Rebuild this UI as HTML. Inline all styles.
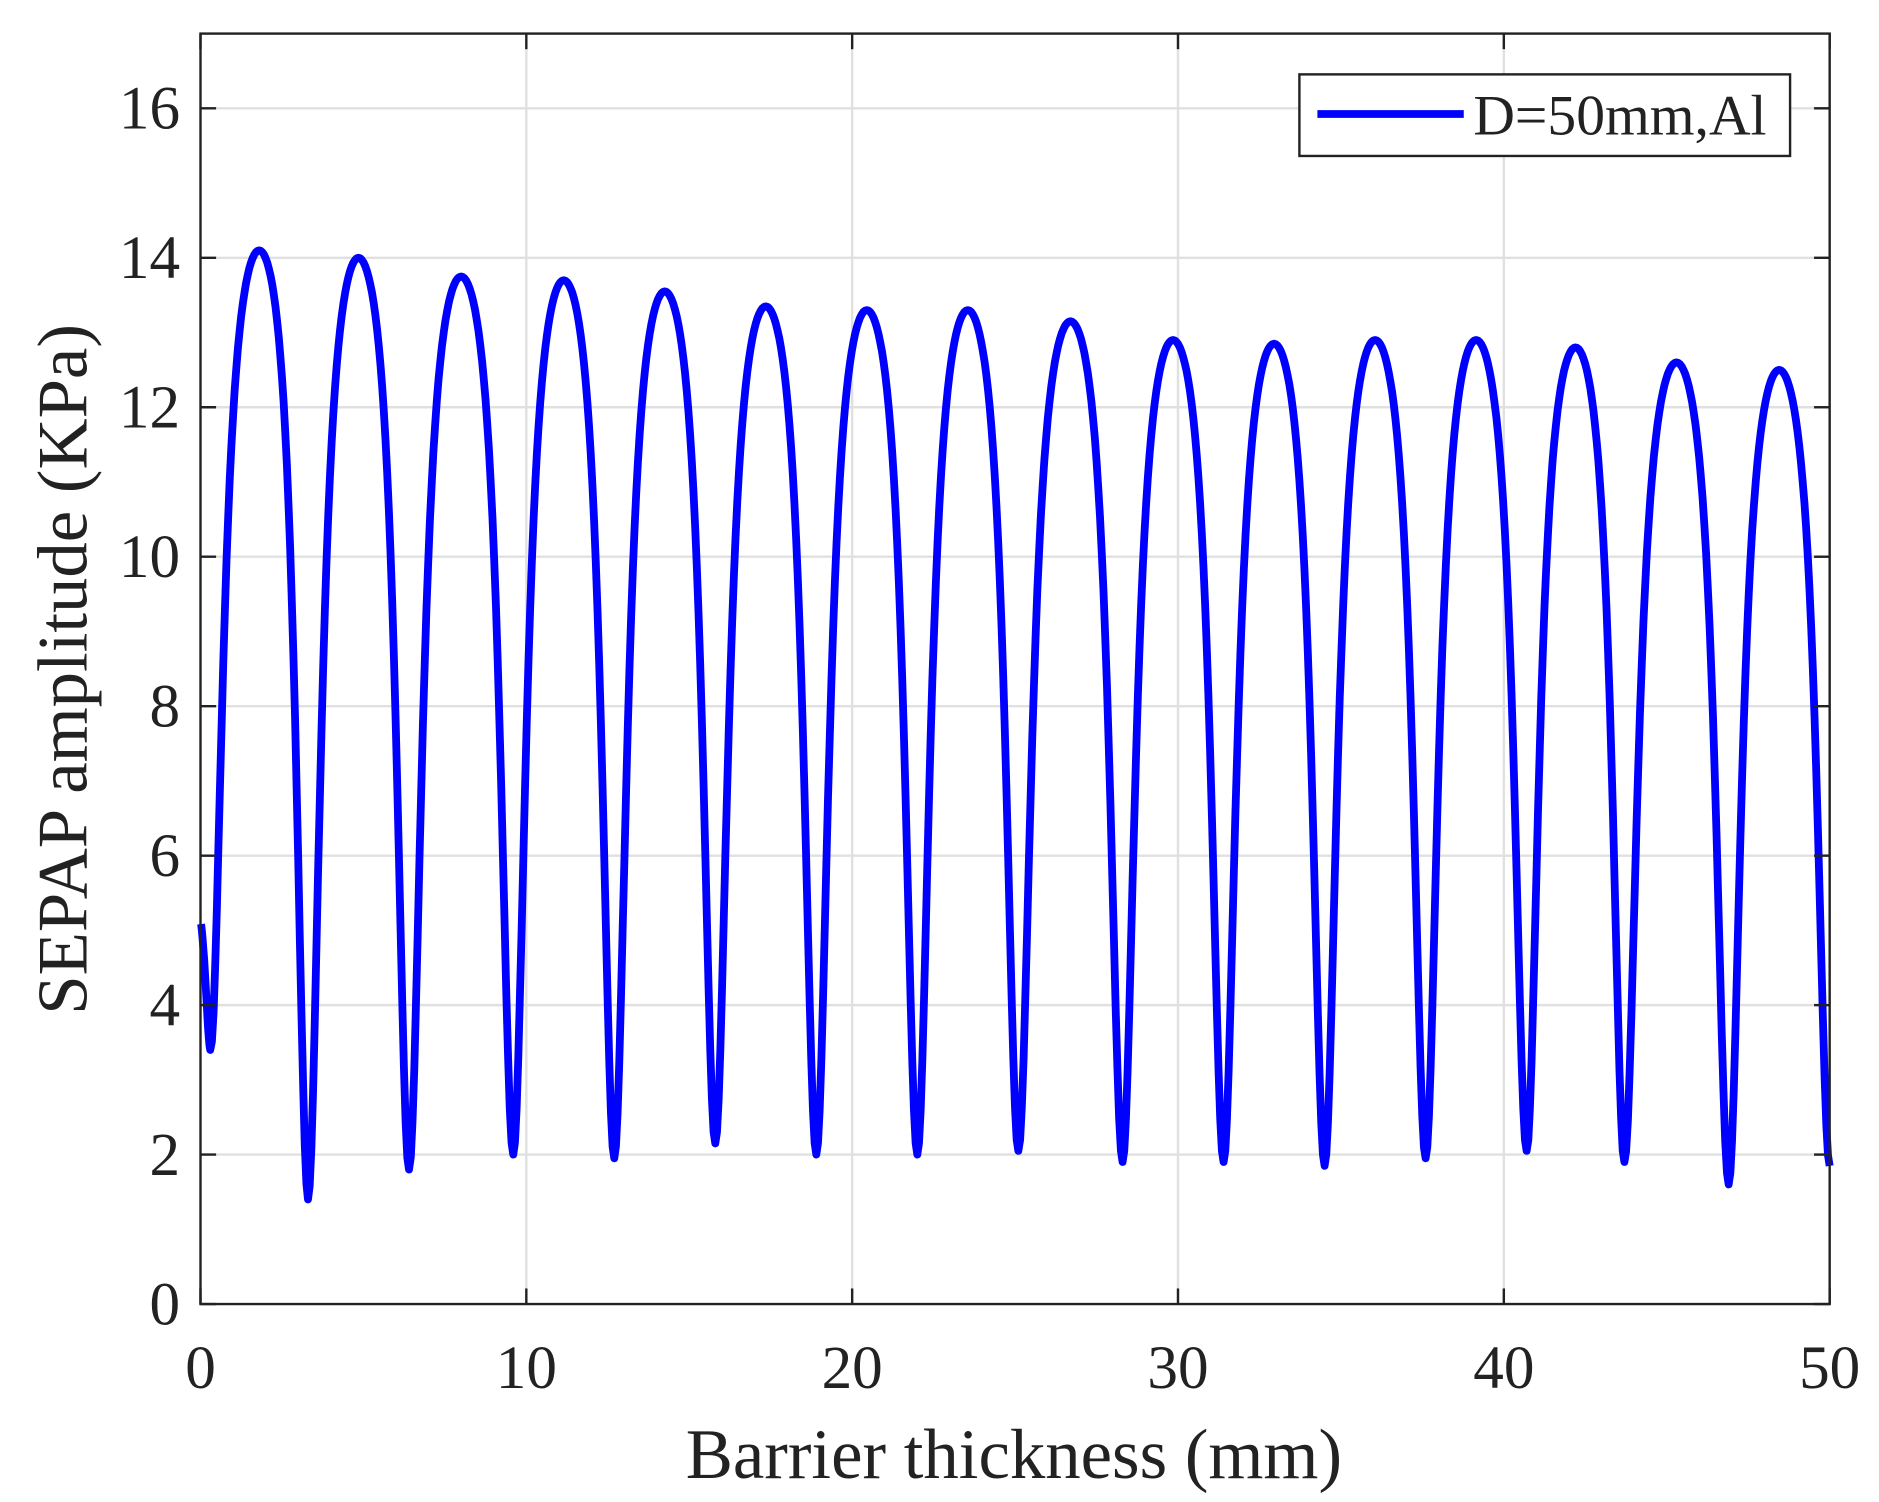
<!DOCTYPE html>
<html><head><meta charset="utf-8"><style>
html,body{margin:0;padding:0;background:#fff}
svg{display:block}
text{font-family:"Liberation Serif",serif;fill:#222}
</style></head><body>
<svg id="s" width="1879" height="1502" viewBox="0 0 1566 1252" xmlns="http://www.w3.org/2000/svg">
<rect width="1566" height="1252" fill="#fff"/>
<g id="grid" stroke="#e0e0e0" stroke-width="2"></g>
<path id="curve" fill="none" stroke="#0000ff" stroke-width="6.5" stroke-linejoin="round"/>
<g id="ticks" stroke="#222" stroke-width="2"></g>
<rect x="167" y="28" width="1358" height="1059" fill="none" stroke="#222" stroke-width="2"/>
<g id="labels" font-size="51"></g>
<text x="845" y="1232" font-size="59" text-anchor="middle">Barrier thickness (mm)</text>
<text transform="translate(72,558) rotate(-90)" font-size="59" text-anchor="middle">SEPAP amplitude (KPa)</text>
<rect x="1083" y="62" width="409" height="68" fill="#fff" stroke="#222" stroke-width="2"/>
<line x1="1098" y1="95" x2="1220" y2="95" stroke="#0000ff" stroke-width="6.5"/>
<text x="1228" y="112" font-size="48">D=50mm,Al</text>
</svg>
<script>
var NS="http://www.w3.org/2000/svg";
function X(v){return 167+v*1358/50}
function Y(v){return 1087-v*1059/17}
var g=document.getElementById('grid'),t=document.getElementById('ticks'),L=document.getElementById('labels');
function el(p,tag,a,txt){var e=document.createElementNS(NS,tag);for(var k in a)e.setAttribute(k,a[k]);if(txt!=null)e.textContent=txt;p.appendChild(e);}
for(var i=0;i<=50;i+=10){var x=X(i);
 if(i>0&&i<50)el(g,'line',{x1:x,y1:28,x2:x,y2:1087});
 el(t,'line',{x1:x,y1:1087,x2:x,y2:1074});el(t,'line',{x1:x,y1:28,x2:x,y2:41});
 el(L,'text',{x:x,y:1157,'text-anchor':'middle'},String(i));}
for(var j=0;j<=16;j+=2){var y=Y(j);
 if(j>0)el(g,'line',{x1:167,y1:y,x2:1525,y2:y});
 el(t,'line',{x1:167,y1:y,x2:180,y2:y});el(t,'line',{x1:1525,y1:y,x2:1512,y2:y});
 el(L,'text',{x:150,y:y+17,'text-anchor':'end'},String(j));}
var mins=[[-1.1,5.0],[0.3,3.4],[3.3,1.4],[6.4,1.8],[9.6,2.0],[12.7,1.95],[15.8,2.15],[18.9,2.0],[22.0,2.0],[25.1,2.05],[28.3,1.9],[31.4,1.9],[34.5,1.85],[37.6,1.95],[40.7,2.05],[43.7,1.9],[46.9,1.6],[50,1.85]];
var peaks=[5.6,14.1,14.0,13.75,13.7,13.55,13.35,13.3,13.3,13.15,12.9,12.85,12.9,12.9,12.8,12.6,12.5];
var K=4,N=K/(1+K),d='';
for(var i=0;i<mins.length-1;i++){var a=mins[i],b=mins[i+1],P=peaks[i];
 for(var k=0;k<=60;k++){var x=a[0]+(b[0]-a[0])*k/60;if(x<0)continue;
  var f=(x-a[0])/(b[0]-a[0]),s=Math.sin(Math.PI*f),q=K*s*s/(1+K*s*s)/N;
  var lo=a[1]+(b[1]-a[1])*f;var v=lo+(P-lo)*q;
  d+=(d?'L':'M')+X(x).toFixed(1)+','+Y(v).toFixed(1);}}
document.getElementById('curve').setAttribute('d',d);
</script>
</body></html>
